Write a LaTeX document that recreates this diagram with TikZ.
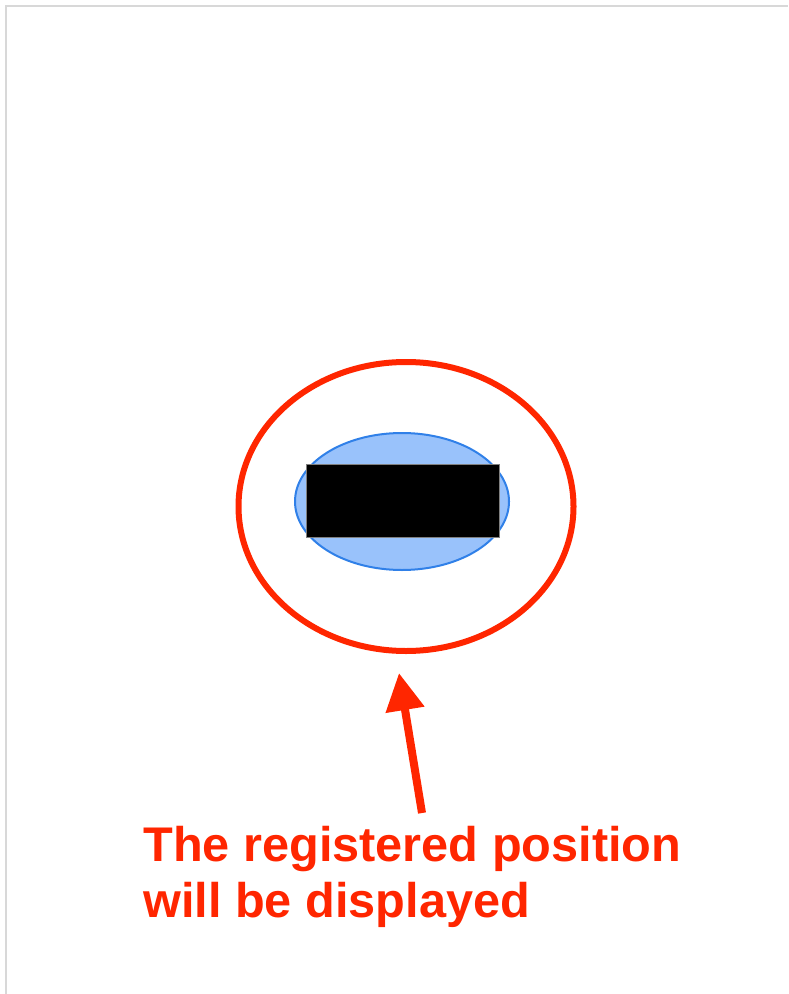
\documentclass[tikz,border=0pt]{standalone}
\usepackage{fontspec}
\setmainfont{Liberation Sans}
\usetikzlibrary{arrows.meta}
\definecolor{markred}{RGB}{255,38,0}
\definecolor{spotblue}{RGB}{153,194,251}
\definecolor{spotedge}{RGB}{48,128,232}
\definecolor{framegray}{RGB}{216,216,216}
\begin{document}
\begin{tikzpicture}[x=0.75pt,y=-0.75pt,
	frame/.style={draw=framegray,line width=1.5pt},
	ring/.style={draw=markred,line width=4.5pt},
	pointer/.style={draw=markred,line width=6pt,-{Triangle[length=28pt,width=28pt]}}]
\useasboundingbox (0,0) rectangle (788,994);
\draw[frame] (6,994) -- (6,6) -- (788,6);
\draw[fill=spotblue,draw=spotedge,line width=1.5pt] (402,501.5) ellipse [x radius=107, y radius=68.5];
\draw[fill=black,draw=gray,line width=0.5pt] (306,464) rectangle (499,537);
\draw[ring] (406,506.5) ellipse [x radius=167.5, y radius=144.5];
\coordinate (tail) at (422,813);
\coordinate (tip) at (399,673);
\draw[pointer] (tail) -- (tip);
\node[anchor=north west,inner sep=0,align=left,text=markred,font=\bfseries\fontsize{36.5}{42}\selectfont] (note) at (143,826) {The registered position\\will be displayed};
\end{tikzpicture}
\end{document}
